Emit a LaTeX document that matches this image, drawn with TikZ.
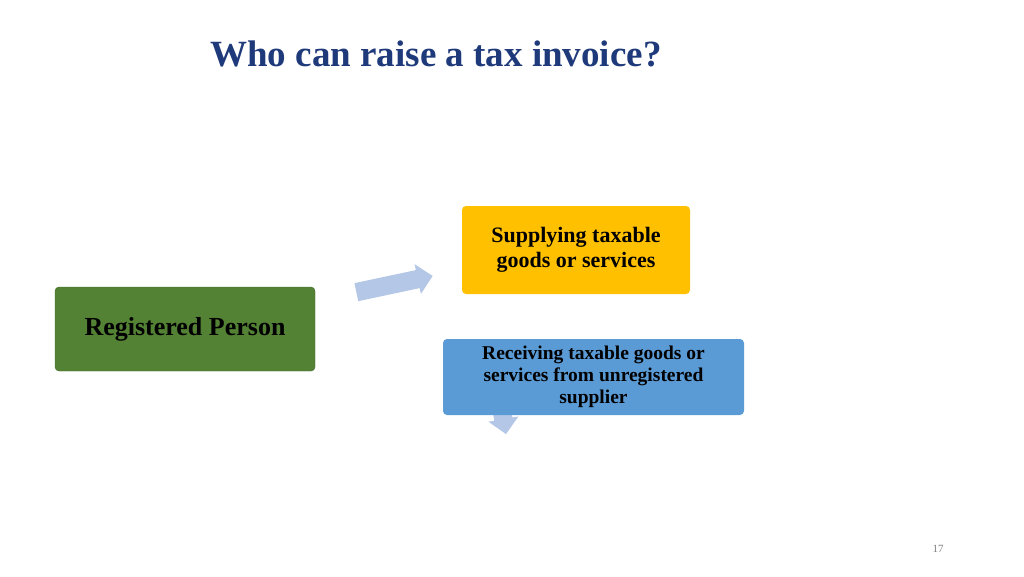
\documentclass[tikz,border=0pt]{standalone}
\usepackage{fontspec}
\setmainfont{Liberation Serif}
\usetikzlibrary{shapes.arrows}
\definecolor{titleblue}{HTML}{1F3A7A}
\definecolor{regGreen}{HTML}{548235}
\definecolor{supYellow}{HTML}{FFC000}
\definecolor{recBlue}{HTML}{5B9BD5}
\definecolor{arrBlue}{HTML}{B4C7E7}
\begin{document}
\begin{tikzpicture}[x=1pt,y=-1pt]
\tikzset{ >=latex, inner sep=0pt, outer sep=0pt, }
\tikzset{
  boxx/.style={rounded corners=4pt, align=center, font=\bfseries},
  flowarrow/.style={single arrow, fill=arrBlue, draw=none, inner sep=9pt,
    single arrow head extend=6pt},
}
\useasboundingbox (0,0) rectangle (1024,576);

%%% Titulo
\node [text=titleblue, font=\bfseries\fontsize{37}{40}\selectfont] (title) at (436,54) {Who can raise a tax invoice?};

%%% Setas
\node [flowarrow, minimum height=78pt, rotate=12] (arrA) at (390,285) { };
\node [flowarrow, minimum height=60pt, rotate=-80] (arrB) at (500,400) { };

%%% Blocos
\node [boxx, fill=regGreen, draw=regGreen!80!black, minimum width=260pt, minimum height=84pt,
  font=\bfseries\fontsize{26}{30}\selectfont] (reg) at (185,329) {Registered Person};
\node [boxx, fill=supYellow, minimum width=228pt, minimum height=88pt,
  font=\bfseries\fontsize{22}{25}\selectfont] (sup) at (576,250) {Supplying taxable\\goods or services};
\node [boxx, fill=recBlue, minimum width=301pt, minimum height=76pt,
  font=\bfseries\fontsize{19.5}{22}\selectfont] (rec) at (593.5,377) {Receiving taxable goods or\\services from unregistered\\supplier};

%%% Pagina
\node [text=gray, font=\fontsize{11}{13}\selectfont] (pg) at (938,549) {17};
\end{tikzpicture}
\end{document}
